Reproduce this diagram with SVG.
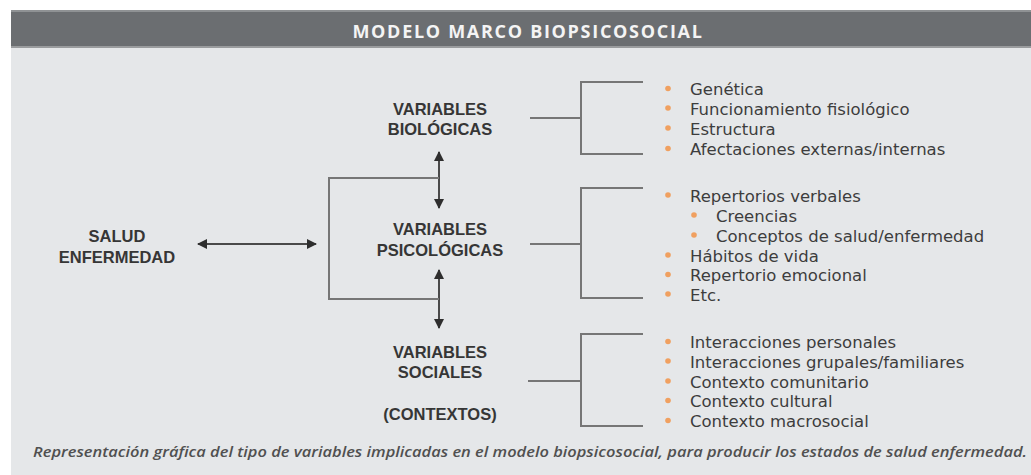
<svg xmlns="http://www.w3.org/2000/svg" width="1031" height="475" viewBox="0 0 1031 475">
<defs>
<style>
.hdr{font-family:"Open Sans","Liberation Sans",sans-serif;font-weight:700;font-size:18px;fill:#f4f4f4;letter-spacing:1.7px}
.nd{font-family:"Liberation Sans",Arial,sans-serif;font-weight:700;font-size:16.5px;fill:#363636;text-anchor:middle}
.it{font-family:"DejaVu Sans",sans-serif;font-size:16.5px;fill:#3d3d3d}
.cap{font-family:"Open Sans","Liberation Sans",sans-serif;font-style:italic;font-weight:600;font-size:15px;fill:#505050}
.br{fill:none;stroke:#767676;stroke-width:2}
.ar{fill:none;stroke:#4a4a4a;stroke-width:2}
.bl{fill:#f0a060}
</style>
<marker id="ah" viewBox="0 0 10 10" refX="9" refY="5" markerWidth="5" markerHeight="5" orient="auto-start-reverse" markerUnits="strokeWidth">
<path d="M0,0 L10,5 L0,10 z" fill="#2e2e2e"/>
</marker>
</defs>
<rect x="0" y="0" width="1031" height="475" fill="#ffffff"/>
<rect x="11" y="48" width="1020" height="427" fill="#e5e7e9"/>
<rect x="11" y="10" width="1020" height="38" fill="#6b6e71"/>
<rect x="11" y="10" width="1020" height="2" fill="#8f9294"/>
<rect x="11" y="46" width="1020" height="2" fill="#9a9c9e"/>
<text class="hdr" x="528" y="38" text-anchor="middle">MODELO MARCO BIOPSICOSOCIAL</text>

<g id="connectors">
<path class="ar" d="M198,244 H316" marker-start="url(#ah)" marker-end="url(#ah)"/>
<path class="ar" d="M439,152 V208" marker-start="url(#ah)" marker-end="url(#ah)"/>
<path class="ar" d="M439,270 V328" marker-start="url(#ah)" marker-end="url(#ah)"/>
<path class="br" d="M439,178 H329 V299 H439"/>
<path class="br" d="M530,118 H581"/>
<path class="br" d="M530,244 H581"/>
<path class="br" d="M528,381 H581"/>
<path class="br" d="M643,82 H581 V154 H643"/>
<path class="br" d="M643,188 H581 V298 H643"/>
<path class="br" d="M643,334 H581 V426 H643"/>
</g>

<g id="salud">
<text class="nd" x="117" y="242">SALUD</text>
<text class="nd" x="117" y="263">ENFERMEDAD</text>
</g>

<g id="biologicas">
<text class="nd" x="440" y="115">VARIABLES</text>
<text class="nd" x="440" y="135">BIOLÓGICAS</text>
</g>

<g id="psicologicas">
<text class="nd" x="440" y="235">VARIABLES</text>
<text class="nd" x="440" y="256">PSICOLÓGICAS</text>
</g>

<g id="sociales">
<text class="nd" x="440" y="358">VARIABLES</text>
<text class="nd" x="440" y="378">SOCIALES</text>
<text class="nd" x="440" y="420">(CONTEXTOS)</text>
</g>

<g id="lista-biologicas">
<circle class="bl" cx="668" cy="88.5" r="2.8"/>
<circle class="bl" cx="668" cy="108" r="2.8"/>
<circle class="bl" cx="668" cy="128" r="2.8"/>
<circle class="bl" cx="668" cy="148.5" r="2.8"/>
<text class="it" x="690" y="95">Genética</text>
<text class="it" x="690" y="114.5">Funcionamiento fisiológico</text>
<text class="it" x="690" y="134.5">Estructura</text>
<text class="it" x="690" y="155">Afectaciones externas/internas</text>
</g>

<g id="lista-psicologicas">
<circle class="bl" cx="668" cy="195" r="2.8"/>
<circle class="bl" cx="694" cy="215" r="2.8"/>
<circle class="bl" cx="694" cy="235" r="2.8"/>
<circle class="bl" cx="668" cy="255" r="2.8"/>
<circle class="bl" cx="668" cy="274.5" r="2.8"/>
<circle class="bl" cx="668" cy="294" r="2.8"/>
<text class="it" x="690" y="201.5">Repertorios verbales</text>
<text class="it" x="716" y="221.5">Creencias</text>
<text class="it" x="716" y="241.5">Conceptos de salud/enfermedad</text>
<text class="it" x="690" y="261.5">Hábitos de vida</text>
<text class="it" x="690" y="281">Repertorio emocional</text>
<text class="it" x="690" y="300.5">Etc.</text>
</g>

<g id="lista-sociales">
<circle class="bl" cx="668" cy="341.5" r="2.8"/>
<circle class="bl" cx="668" cy="361" r="2.8"/>
<circle class="bl" cx="668" cy="381" r="2.8"/>
<circle class="bl" cx="668" cy="400.5" r="2.8"/>
<circle class="bl" cx="668" cy="420.5" r="2.8"/>
<text class="it" x="690" y="348">Interacciones personales</text>
<text class="it" x="690" y="367.5">Interacciones grupales/familiares</text>
<text class="it" x="690" y="387.5">Contexto comunitario</text>
<text class="it" x="690" y="407">Contexto cultural</text>
<text class="it" x="690" y="427">Contexto macrosocial</text>
</g>

<text class="cap" x="33" y="457" textLength="994" lengthAdjust="spacingAndGlyphs">Representación gráfica del tipo de variables implicadas en el modelo biopsicosocial, para producir los estados de salud enfermedad.</text>
</svg>
